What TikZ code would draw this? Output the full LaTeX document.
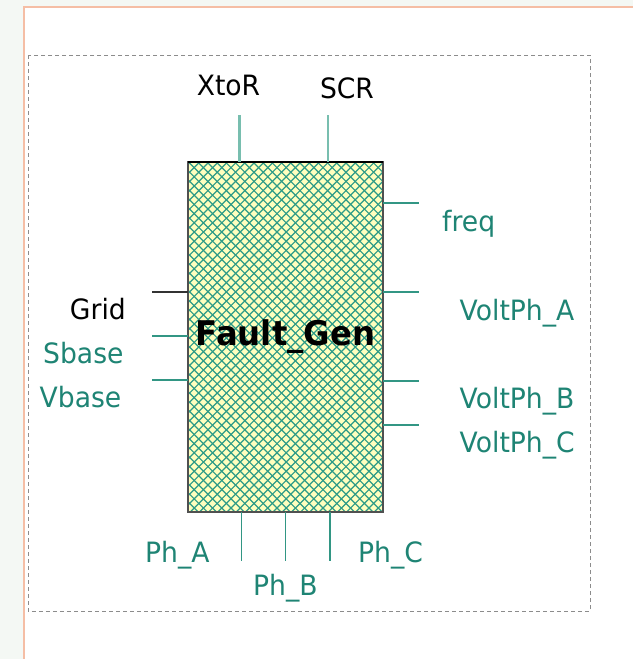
\documentclass[tikz,border=0pt]{standalone}
\usepackage{fontspec}
\setmainfont{DejaVu Sans}[FakeStretch=0.95]
\definecolor{bgc}{RGB}{244,248,244}
\definecolor{frameor}{RGB}{245,190,165}
\definecolor{dashgray}{RGB}{140,140,140}
\definecolor{tealtxt}{RGB}{30,132,116}
\definecolor{tealline}{RGB}{50,150,132}
\definecolor{teallight}{RGB}{120,190,175}
\definecolor{hatchyel}{RGB}{255,255,190}
\definecolor{hatchteal}{RGB}{45,155,135}
\definecolor{boxborder}{RGB}{80,80,80}
\tikzset{
  lbl/.style={inner sep=0pt, font=\fontsize{28}{30}\selectfont, text=tealtxt},
  lblk/.style={lbl, text=black},
  pin/.style={draw=tealline, line width=1.5pt},
  toppin/.style={draw=teallight, line width=2.5pt},
  blackpin/.style={draw=black!80, line width=1.3pt},
  blockbox/.style={draw=boxborder, line width=2pt, minimum width=193pt, minimum height=348pt, inner sep=0pt}
}
\begin{document}
\begin{tikzpicture}[x=1pt,y=-1pt]
\useasboundingbox (0,0) rectangle (633,659);
\fill[bgc] (0,0) rectangle (633,659);
\fill[white] (24,7) rectangle (633,659);
\draw[frameor, line width=1.5pt] (24,659) -- (24,7) -- (633,7);
\draw[dashgray, line width=1pt, dash pattern=on 4pt off 3pt] (28,55) rectangle (590,611);
% block
\node[blockbox] (fg) at (285.5,337) {};
\begin{scope}
  \clip (fg.south west) rectangle (fg.north east);
  \fill[hatchyel] (fg.south west) rectangle (fg.north east);
  \foreach \k in {0,...,100} {
    \draw[hatchteal, line width=1.2pt] (-160+9.2*\k,163) -- ++(349,349);
    \draw[hatchteal, line width=1.2pt] (-160+9.2*\k,163) -- ++(-349,349);
  }
\end{scope}
\draw[boxborder, line width=2pt] (fg.south west) rectangle (fg.north east);
\draw[black, line width=2pt] (fg.north west) -- (fg.north east);
\node[lblk, font=\fontsize{34}{36}\selectfont\bfseries, anchor=base] (title) at (285.5,345) {Fault\_Gen};
% pin end coordinates
\coordinate (pXtoR) at (239.5,115);
\coordinate (pSCR) at (328,115);
\coordinate (pfreq) at (419,203);
\coordinate (pVA) at (419,292);
\coordinate (pVB) at (419,381);
\coordinate (pVC) at (419,425);
\coordinate (pGrid) at (152,292);
\coordinate (pSbase) at (152,336);
\coordinate (pVbase) at (152,380);
\coordinate (pPhA) at (241.5,561);
\coordinate (pPhB) at (285.5,561);
\coordinate (pPhC) at (330,561);
% connectors
\draw[toppin] (fg.north -| pXtoR) -- (pXtoR);
\draw[toppin] (fg.north -| pSCR) -- (pSCR);
\draw[pin] (fg.east |- pfreq) -- (pfreq);
\draw[pin] (fg.east |- pVA) -- (pVA);
\draw[pin] (fg.east |- pVB) -- (pVB);
\draw[pin] (fg.east |- pVC) -- (pVC);
\draw[blackpin] (fg.west |- pGrid) -- (pGrid);
\draw[pin] (fg.west |- pSbase) -- (pSbase);
\draw[pin] (fg.west |- pVbase) -- (pVbase);
\draw[pin] (fg.south -| pPhA) -- (pPhA);
\draw[pin] (fg.south -| pPhB) -- (pPhB);
\draw[pin] (fg.south -| pPhC) -- (pPhC);
% labels
\node[lblk, anchor=base] (lXtoR) at (228.5,95) {XtoR};
\node[lblk, anchor=base] (lSCR) at (347,98) {SCR};
\node[lbl, anchor=base west] (lfreq) at (442,231) {freq};
\node[lbl, anchor=base west] (lVA) at (459.5,320) {VoltPh\_A};
\node[lbl, anchor=base west] (lVB) at (459.5,408) {VoltPh\_B};
\node[lbl, anchor=base west] (lVC) at (459.5,452.5) {VoltPh\_C};
\node[lblk, anchor=base east] (lGrid) at (126,319) {Grid};
\node[lbl, anchor=base west] (lSbase) at (43,363) {Sbase};
\node[lbl, anchor=base west] (lVbase) at (39.5,407) {Vbase};
\node[lbl, anchor=base west] (lPhA) at (145,562.5) {Ph\_A};
\node[lbl, anchor=base west] (lPhB) at (253,595) {Ph\_B};
\node[lbl, anchor=base west] (lPhC) at (358,562.5) {Ph\_C};
\end{tikzpicture}
\end{document}
